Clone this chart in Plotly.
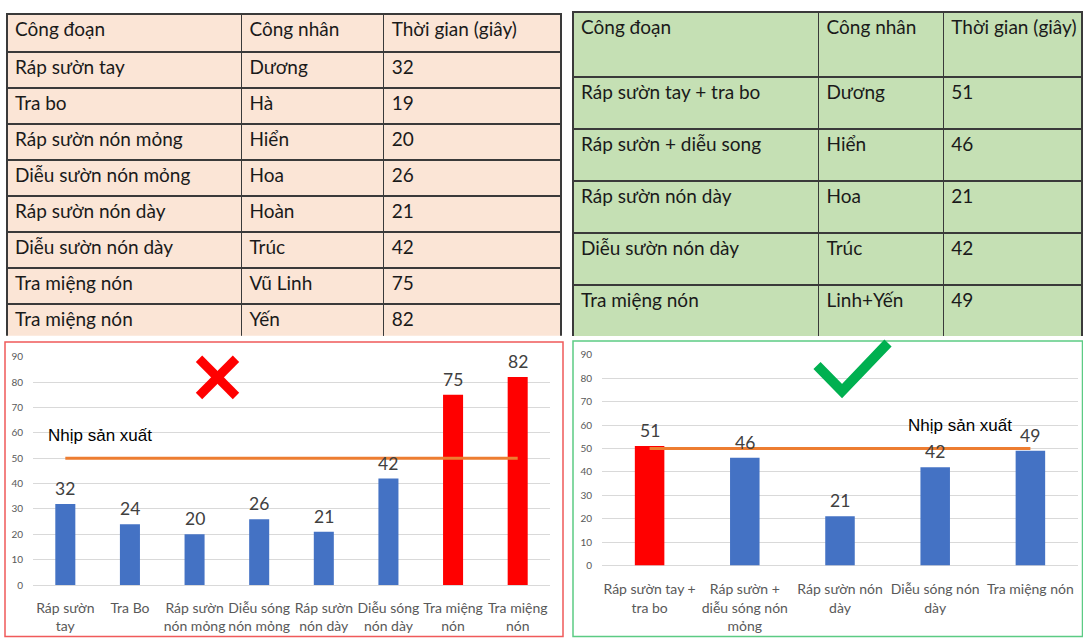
import plotly.graph_objects as go

W, H = 1083, 644

# ---- data -------------------------------------------------------------
takt = 50  # nhịp sản xuất (giây)

before_stage = ["Ráp sườn tay", "Tra bo", "Ráp sườn nón mỏng", "Diễu sườn nón mỏng",
                "Ráp sườn nón dày", "Diễu sườn nón dày", "Tra miệng nón", "Tra miệng nón"]
before_worker = ["Dương", "Hà", "Hiển", "Hoa", "Hoàn", "Trúc", "Vũ Linh", "Yến"]
before_time = [32, 19, 20, 26, 21, 42, 75, 82]

after_stage = ["Ráp sườn tay + tra bo", "Ráp sườn + diễu song", "Ráp sườn nón dày",
               "Diễu sườn nón dày", "Tra miệng nón"]
after_worker = ["Dương", "Hiển", "Hoa", "Trúc", "Linh+Yến"]
after_time = [51, 46, 21, 42, 49]

before_labels = ["Ráp sườn<br>tay", "Tra Bo", "Ráp sườn<br>nón mỏng", "Diễu sóng<br>nón mỏng",
                 "Ráp sườn<br>nón dày", "Diễu sóng<br>nón dày", "Tra miệng<br>nón", "Tra miệng<br>nón"]
before_values = [32, 24, 20, 26, 21, 42, 75, 82]

after_labels = ["Ráp sườn tay +<br>tra bo", "Ráp sườn +<br>diễu sóng nón<br>mỏng",
                "Ráp sườn nón<br>dày", "Diễu sóng nón<br>dày", "Tra miệng nón"]
after_values = [51, 46, 21, 42, 49]

table_header = ["Công đoạn", "Công nhân", "Thời gian (giây)"]
takt_label = "Nhịp sản xuất"

# ---- style ------------------------------------------------------------
BLUE, RED, ORANGE = "#4472C4", "#FF0000", "#ED7D31"
GRID = "#D9D9D9"
TICK = "#595959"
LABEL = "#404040"
TABLE_FONT = "Lato, Carlito, sans-serif"


def px(x):
    return x / W


def py(y):
    return 1 - y / H


def no_wrap(texts):
    # keep each header on a single line inside narrow columns
    return [t.replace(" ", "\u00a0") for t in texts]


fig = go.Figure()

# ---- tables -----------------------------------------------------------
fig.add_trace(go.Table(
    domain=dict(x=[px(7), px(561)], y=[py(336), py(7)]),
    columnwidth=[234, 142, 177],
    header=dict(values=table_header, align="left", height=38,
                fill_color="#FBE5D6", line=dict(color="#3A3A3A", width=1.5),
                font=dict(family=TABLE_FONT, size=19, color="#1A1A1A")),
    cells=dict(values=[before_stage, before_worker, [str(v) for v in before_time]],
               align="left", height=36,
               fill_color="#FBE5D6", line=dict(color="#3A3A3A", width=1.5),
               font=dict(family=TABLE_FONT, size=19, color="#1A1A1A")),
))

fig.add_trace(go.Table(
    domain=dict(x=[px(573), 1.0], y=[py(336), py(5)]),
    columnwidth=[246, 125, 139],
    header=dict(values=no_wrap(table_header), align="left", height=65,
                fill_color="#C5E0B4", line=dict(color="#3A3A3A", width=1.5),
                font=dict(family=TABLE_FONT, size=19, color="#1A1A1A")),
    cells=dict(values=[after_stage, after_worker, [str(v) for v in after_time]],
               align="left", height=52,
               fill_color="#C5E0B4", line=dict(color="#3A3A3A", width=1.5),
               font=dict(family=TABLE_FONT, size=19, color="#1A1A1A")),
))


# ---- bar charts -------------------------------------------------------
def add_chart(values, xa, ya):
    xs = list(range(len(values)))
    colors = [RED if v > takt else BLUE for v in values]
    fig.add_trace(go.Bar(x=xs, y=values, marker=dict(color=colors, line=dict(width=0)),
                         xaxis=xa, yaxis=ya, showlegend=False, hoverinfo="y"))
    fig.add_trace(go.Scatter(x=xs, y=[takt] * len(xs), mode="lines",
                             line=dict(color=ORANGE, width=3),
                             xaxis=xa, yaxis=ya, showlegend=False, hoverinfo="skip"))
    for x, v in zip(xs, values):
        fig.add_annotation(x=x, y=v, xref=xa, yref=ya, text=str(v), showarrow=False,
                           yanchor="bottom", yshift=3,
                           font=dict(family=TABLE_FONT, size=17.5, color=LABEL))


add_chart(before_values, "x", "y")
add_chart(after_values, "x2", "y2")

fig.add_annotation(x=0.54, y=59, xref="x", yref="y", text=takt_label, showarrow=False,
                   font=dict(family="Liberation Sans, Arial", size=17, color="#000000"))
fig.add_annotation(x=3.26, y=60, xref="x2", yref="y2", text=takt_label, showarrow=False,
                   font=dict(family="Liberation Sans, Arial", size=17, color="#000000"))

axis_common = dict(showline=False, ticks="", fixedrange=True)
yaxis_common = dict(range=[0, 90], dtick=10, showgrid=True, gridcolor=GRID, gridwidth=1,
                    zeroline=True, zerolinecolor=GRID, zerolinewidth=1,
                    tickfont=dict(family=TABLE_FONT, size=10, color=TICK),
                    ticklabelstandoff=9, **axis_common)

fig.update_layout(
    width=W, height=H,
    margin=dict(l=0, r=0, t=0, b=0),
    paper_bgcolor="white", plot_bgcolor="white",
    bargap=0.69,
    xaxis=dict(domain=[px(33), px(550)], anchor="y", range=[-0.5, len(before_values) - 0.5],
               tickvals=list(range(len(before_labels))), ticktext=before_labels,
               tickfont=dict(family=TABLE_FONT, size=14, color=TICK),
               showgrid=False, zeroline=False, ticklabelstandoff=13, **axis_common),
    yaxis=dict(domain=[py(590), py(357)], anchor="x", **yaxis_common),
    xaxis2=dict(domain=[px(602), px(1078)], anchor="y2", range=[-0.5, len(after_values) - 0.5],
                tickvals=list(range(len(after_labels))), ticktext=after_labels,
                tickfont=dict(family=TABLE_FONT, size=14, color=TICK),
                showgrid=False, zeroline=False, ticklabelstandoff=14, **axis_common),
    yaxis2=dict(domain=[py(570), py(355)], anchor="x2", **yaxis_common),
)

# ---- frames and marks -------------------------------------------------
fig.add_shape(type="rect", xref="paper", yref="paper",
              x0=px(5), x1=px(563), y0=py(642.5), y1=py(342),
              line=dict(color="#F05A5A", width=1.5), layer="above")
fig.add_shape(type="rect", xref="paper", yref="paper",
              x0=px(573), x1=px(1082.5), y0=py(642.5), y1=py(341),
              line=dict(color="#5CCB84", width=1.5), layer="above")

# red cross
for (xa0, ya0, xa1, ya1) in [(199, 359, 236, 397), (236, 359, 199, 397)]:
    fig.add_shape(type="line", xref="paper", yref="paper",
                  x0=px(xa0), y0=py(ya0), x1=px(xa1), y1=py(ya1),
                  line=dict(color="#FF0000", width=9), layer="above")

# green tick
fig.add_shape(type="path", xref="paper", yref="paper",
              path=f"M {px(817)} {py(366)} L {px(842)} {py(392)} L {px(888)} {py(343)}",
              line=dict(color="#00B050", width=10), layer="above")

fig.write_html("out.html", config={"displayModeBar": False})
